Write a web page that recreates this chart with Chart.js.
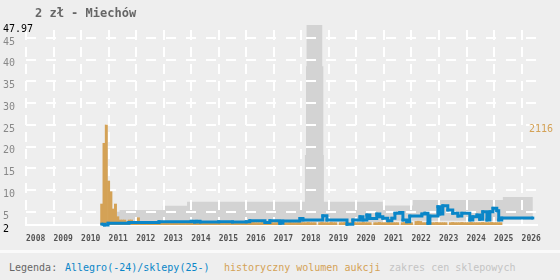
<!DOCTYPE html>
<html>
<head>
<meta charset="utf-8">
<script src="https://cdn.jsdelivr.net/npm/chart.js@4/dist/chart.umd.min.js"></script>
<style>
  html, body { margin: 0; padding: 0; background: #eeeeee; }
  body { width: 560px; height: 280px; position: relative; overflow: hidden; font-family: "DejaVu Sans Mono", monospace; }
  #chart { position: absolute; left: 0; top: 0; }
  #title { position: absolute; left: 35px; top: 6px; font-size: 12px; font-weight: bold; color: #666; line-height: 14px; white-space: pre; }
  #sep { position: absolute; left: 0; top: 250px; width: 560px; height: 3px; background: #fafafa; }
  .leg { position: absolute; top: 262px; font-size: 10px; line-height: 12px; white-space: pre; }
</style>
</head>
<body>
<canvas id="chart" width="560" height="250"></canvas>
<div id="title">2 zł - Miechów</div>
<div id="sep"></div>
<span class="leg" style="left:9px;color:#666">Legenda:</span>
<span class="leg" style="left:65px;color:#0a86c8">Allegro(-24)/sklepy(25-)</span>
<span class="leg" style="left:224px;color:#d4a256">historyczny wolumen aukcji</span>
<span class="leg" style="left:389px;color:#c4c4c4">zakres cen sklepowych</span>
<script>
const BLUE = '#0a86c8';
const ORANGE = '#d4a256';
const BAND = '#d3d3d3';

// x axis: years
const yearTicks = [2008, 2009, 2010, 2011, 2012, 2013, 2014, 2015, 2016, 2017,
    2018, 2019, 2020, 2021, 2022, 2023, 2024, 2025, 2026];
const priceTicks = [2, 5, 10, 15, 20, 25, 30, 35, 40, 45, 47.97];

// monthly auction volume, first month = Sep 2010 (bars drawn at month end)
const volumeStartYear = 2010;
const volumeStartMonth = 8;
const volume = [
    444, 1729, 2116, 931,                                   // 2010
    705, 339, 444, 176, 106, 106, 106, 70, 106, 106, 50, 60, // 2011
    154, 55, 50, 50, 55, 50, 50, 55, 50, 55, 50, 50,         // 2012
    50, 55, 50, 50, 55, 50, 50, 50, 55, 50, 50, 55,          // 2013
    50, 50, 55, 50, 50, 55, 50, 50, 50, 55, 50, 50,          // 2014
    55, 50, 50, 50, 55, 50, 50, 55, 50, 50, 50, 55,          // 2015
    50, 50, 55, 50, 50, 50, 55, 50, 50, 55, 50, 50,          // 2016
    50, 55, 50, 0, 50, 50, 55, 50, 50, 50, 55, 50,           // 2017
    50, 50, 55, 50, 50, 50, 0, 50, 55, 50, 50, 50,           // 2018
    55, 50, 50, 0, 50, 50, 55, 50, 50, 50, 55, 50,           // 2019
    50, 50, 55, 50, 50, 50, 0, 50, 50, 55, 50, 50,           // 2020
    50, 55, 50, 50, 50, 50, 0, 50, 55, 50, 50, 50,           // 2021
    0, 75, 80, 75, 50, 50, 55, 50, 50, 50, 55, 50,           // 2022
    50, 50, 50, 0, 50, 55, 50, 50, 50, 55, 50, 50,           // 2023
    50, 55, 50, 50, 50, 50, 55, 50, 50, 50, 55, 50,          // 2024
    50, 50, 50                                               // 2025
];

// Allegro prices (step starts)
const allegroYears = [2010.75, 2010.85, 2010.98, 2011.74, 2012.83, 2014.0, 2014.12, 2014.2, 2014.32,
    2015.0, 2015.5, 2016.0, 2016.13, 2016.68, 2016.86, 2017.22, 2017.33, 2017.95, 2018.06,
    2018.78, 2018.93, 2019.66, 2019.87, 2020.13, 2020.24, 2020.38, 2020.49, 2020.74, 2020.85,
    2020.96, 2021.14, 2021.29, 2021.4, 2021.58, 2021.69, 2021.83, 2021.94, 2022.38, 2022.49,
    2022.6, 2022.67, 2022.96, 2023.03, 2023.14, 2023.32, 2023.5, 2023.69, 2023.83, 2024.12,
    2024.23, 2024.38, 2024.48, 2024.59, 2024.74, 2024.85, 2024.96, 2025.1, 2025.17, 2025.28, 2026.41];
const allegroPrices = [2.2, 2.0, 2.4, 2.6, 2.75, 2.85, 2.7, 2.85, 2.7,
    2.75, 2.7, 2.75, 3.0, 2.6, 3.0, 2.4, 2.9, 3.5, 3.15,
    4.1, 3.15, 2.15, 3.15, 3.9, 3.15, 4.3, 3.5, 4.5, 3.9,
    3.55, 3.0, 3.55, 4.7, 4.9, 3.15, 2.75, 4.05, 4.5, 4.7,
    2.4, 4.05, 6.2, 4.5, 6.4, 5.45, 4.7, 4.05, 4.7, 3.15,
    3.9, 4.3, 3.3, 5.05, 3.15, 5.05, 5.85, 5.3, 3.15, 3.6, 3.6];

// shop price range (step starts)
const shopYears = [2011.3, 2011.4, 2012.97, 2013.85, 2018.13, 2018.17, 2018.19, 2018.76, 2018.8,
    2018.82, 2020.96, 2022.05, 2025.32, 2026.41];
const shopHigh = [5.05, 5.45, 6.4, 7.35, 18.1, 38.5, 47.97, 38.5, 18.1, 7.35, 6.5, 7.75, 8.45, 8.45];
const shopLow = [2.6, 2.6, 2.6, 2.6, 2.7, 2.7, 2.7, 2.7, 2.7, 2.7, 3.0, 3.0, 3.15, 3.15];

const volumePoints = volume.map((v, i) => ({
    x: volumeStartYear + (volumeStartMonth + i + 1) / 12,
    y: v
}));
const allegroPoints = allegroYears.map((x, i) => ({ x: x, y: allegroPrices[i] }));
const highPoints = shopYears.map((x, i) => ({ x: x, y: shopHigh[i] }));
const lowPoints = shopYears.map((x, i) => ({ x: x, y: shopLow[i] }));
const volumeMax = Math.max(...volume);

// y tick labels sit a bit below their grid line and may spill into the plot
const sideLabels = {
    id: 'sideLabels',
    afterDatasetsDraw(chart) {
        const c = chart.ctx;
        const ys = chart.scales.y;
        c.save();
        c.font = '10px "DejaVu Sans Mono"';
        c.textBaseline = 'middle';
        c.textAlign = 'left';
        priceTicks.forEach(v => {
            c.fillStyle = (v === 2 || v === 47.97) ? '#000' : '#888';
            c.fillText(String(v), 3, ys.getPixelForValue(v) + 4);
        });
        const yv = chart.scales.yv.getPixelForValue(volumeMax) + 4;
        c.fillStyle = ORANGE;
        c.fillText(String(volumeMax), chart.chartArea.right - 8, yv);
        c.restore();
    }
};

new Chart(document.getElementById('chart'), {
    type: 'bar',
    data: {
        datasets: [
            {
                type: 'line',
                label: 'Allegro',
                data: allegroPoints,
                borderColor: BLUE,
                backgroundColor: BLUE,
                borderWidth: 3,
                stepped: 'before',
                pointStyle: 'rect',
                pointRadius: 2,
                pointBorderWidth: 0,
                pointBackgroundColor: BLUE,
                fill: false,
                clip: false,
                order: 0
            },
            {
                type: 'bar',
                label: 'wolumen',
                data: volumePoints,
                yAxisID: 'yv',
                backgroundColor: ORANGE,
                borderWidth: 0,
                barPercentage: 1,
                categoryPercentage: 1,
                order: 1
            },
            {
                type: 'line',
                label: 'sklepy max',
                data: highPoints,
                borderWidth: 0,
                borderColor: 'rgba(0,0,0,0)',
                backgroundColor: BAND,
                stepped: 'before',
                pointRadius: 0,
                fill: '+1',
                order: 2
            },
            {
                type: 'line',
                label: 'sklepy min',
                data: lowPoints,
                borderWidth: 0,
                borderColor: 'rgba(0,0,0,0)',
                stepped: 'before',
                pointRadius: 0,
                fill: false,
                order: 3
            }
        ]
    },
    options: {
        responsive: false,
        animation: false,
        devicePixelRatio: 1,
        layout: { padding: { top: 25, left: 3, right: 23, bottom: 0 } },
        plugins: {
            legend: { display: false },
            tooltip: { enabled: false },
            filler: { drawTime: 'beforeDraw' }
        },
        scales: {
            x: {
                type: 'linear',
                min: 2008,
                max: 2026.56,
                offset: false,
                afterBuildTicks: (scale) => {
                    scale.ticks = yearTicks.map(v => ({ value: v }));
                },
                afterFit: (scale) => { scale.height = 25; },
                grid: { color: '#ffffff', lineWidth: 2, drawTicks: false, offset: false },
                border: { display: true, color: '#ffffff', width: 2, dash: [10, 7], dashOffset: -5 },
                ticks: {
                    align: 'start',
                    padding: 9,
                    color: '#555',
                    font: { family: 'DejaVu Sans Mono', size: 8, weight: 'bold' },
                    maxRotation: 0,
                    autoSkip: false,
                    callback: (v) => String(v)
                }
            },
            y: {
                type: 'linear',
                position: 'left',
                min: 2,
                max: 47.97,
                afterBuildTicks: (scale) => {
                    scale.ticks = priceTicks.map(v => ({ value: v }));
                },
                afterFit: (scale) => { scale.width = 23; },
                grid: {
                    color: (ctx) => (ctx.tick && (ctx.tick.value === 47.97 || ctx.tick.value === 2)) ? 'rgba(0,0,0,0)' : '#ffffff',
                    lineWidth: 2,
                    drawTicks: false
                },
                border: { display: false, dash: [10, 10] },
                ticks: { display: false }
            },
            yv: {
                type: 'linear',
                display: false,
                min: 0,
                max: volumeMax * 2
            }
        }
    },
    plugins: [sideLabels]
});
</script>
</body>
</html>
